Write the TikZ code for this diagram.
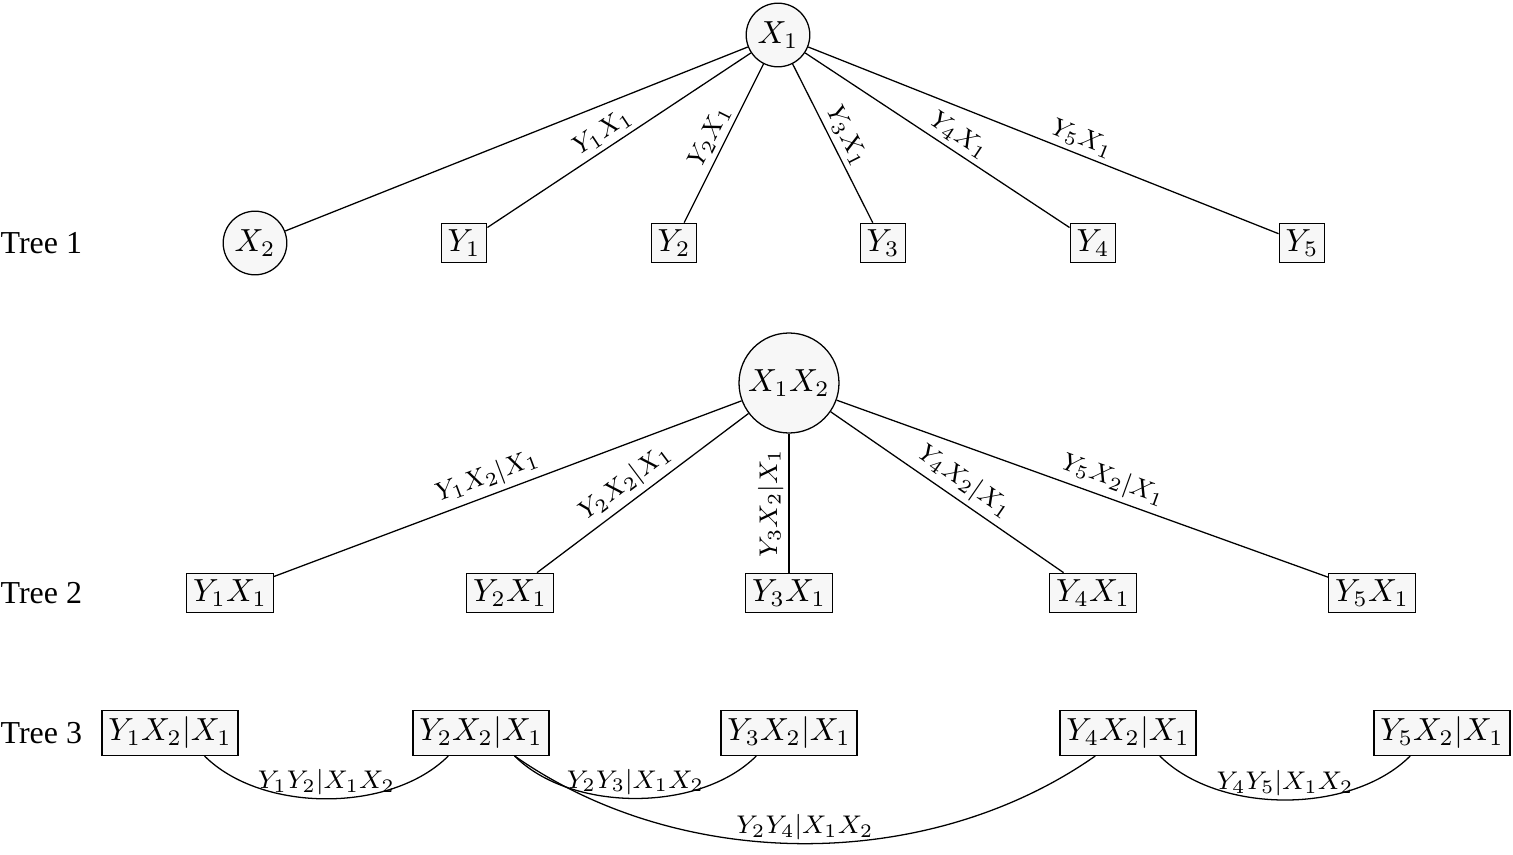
\documentclass[tikz,border=0pt]{standalone}
\usepackage{fontspec}
\setmainfont{Liberation Serif}
\begin{document}
\begin{tikzpicture}[x=0.011cm,y=-0.011cm,
  c/.style={circle,draw,fill=black!3,inner sep=1pt},
  b/.style={rectangle,draw,fill=black!3,inner sep=2pt},
  l/.style={font=\footnotesize,sloped,above,inner sep=1.5pt},
  cl/.style={midway,above,font=\footnotesize,inner sep=1pt},
  t/.style={anchor=west,inner sep=0pt}]
\useasboundingbox (0,0) rectangle (1513,855);
% Tree 1
\node[t] (t1) at (0,243) {Tree 1};
\node[c,minimum size=0.7cm] (x1) at (778,35) {$X_1$};
\node[c,minimum size=0.7cm] (x2) at (255,243) {$X_2$};
\node[b] (y1) at (464,243) {$Y_1$};
\node[b] (y2) at (674,243) {$Y_2$};
\node[b] (y3) at (883,243) {$Y_3$};
\node[b] (y4) at (1093,243) {$Y_4$};
\node[b] (y5) at (1302,243) {$Y_5$};
\draw (x1) -- (x2);
\draw (y1) -- node[l,pos=0.47]{$Y_1X_1$} (x1);
\draw (y2) -- node[l,pos=0.5]{$Y_2X_1$} (x1);
\draw (x1) -- node[l,pos=0.5]{$Y_3X_1$} (y3);
\draw (x1) -- node[l,pos=0.55]{$Y_4X_1$} (y4);
\draw (x1) -- node[l,pos=0.57]{$Y_5X_1$} (y5);
% Tree 2
\node[t] (t2) at (0,593) {Tree 2};
\node[c,minimum size=1.1cm,inner sep=0pt] (x12) at (789,383) {$X_1X_2$};
\node[b] (z1) at (230,593) {$Y_1X_1$};
\node[b] (z2) at (510,593) {$Y_2X_1$};
\node[b] (z3) at (789,593) {$Y_3X_1$};
\node[b] (z4) at (1093,593) {$Y_4X_1$};
\node[b] (z5) at (1372,593) {$Y_5X_1$};
\draw (z1) -- node[l,pos=0.47]{$Y_1X_2|X_1$} (x12);
\draw (z2) -- node[l,pos=0.47]{$Y_2X_2|X_1$} (x12);
\draw (z3) -- node[l,pos=0.5]{$Y_3X_2|X_1$} (x12);
\draw (x12) -- node[l,pos=0.53]{$Y_4X_2|X_1$} (z4);
\draw (x12) -- node[l,pos=0.55]{$Y_5X_2|X_1$} (z5);
% Tree 3
\node[t] (t3) at (0,733) {Tree 3};
\node[b] (w1) at (170,733) {$Y_1X_2|X_1$};
\node[b] (w2) at (481,733) {$Y_2X_2|X_1$};
\node[b] (w3) at (789,733) {$Y_3X_2|X_1$};
\node[b] (w4) at (1128,733) {$Y_4X_2|X_1$};
\node[b] (w5) at (1442,733) {$Y_5X_2|X_1$};
\draw ([xshift=0.38cm]w1.south) to[out=-45,in=-135,looseness=0.85] node[cl]{$Y_1Y_2|X_1X_2$} ([xshift=-0.36cm]w2.south);
\draw ([xshift=0.37cm]w2.south) to[out=-45,in=-135,looseness=0.85] node[cl]{$Y_2Y_3|X_1X_2$} ([xshift=-0.36cm]w3.south);
\draw ([xshift=0.37cm]w2.south) to[out=-35,in=-145,looseness=0.9] node[cl]{$Y_2Y_4|X_1X_2$} ([xshift=-0.36cm]w4.south);
\draw ([xshift=0.35cm]w4.south) to[out=-45,in=-135,looseness=0.85] node[cl]{$Y_4Y_5|X_1X_2$} ([xshift=-0.35cm]w5.south);
\end{tikzpicture}
\end{document}
